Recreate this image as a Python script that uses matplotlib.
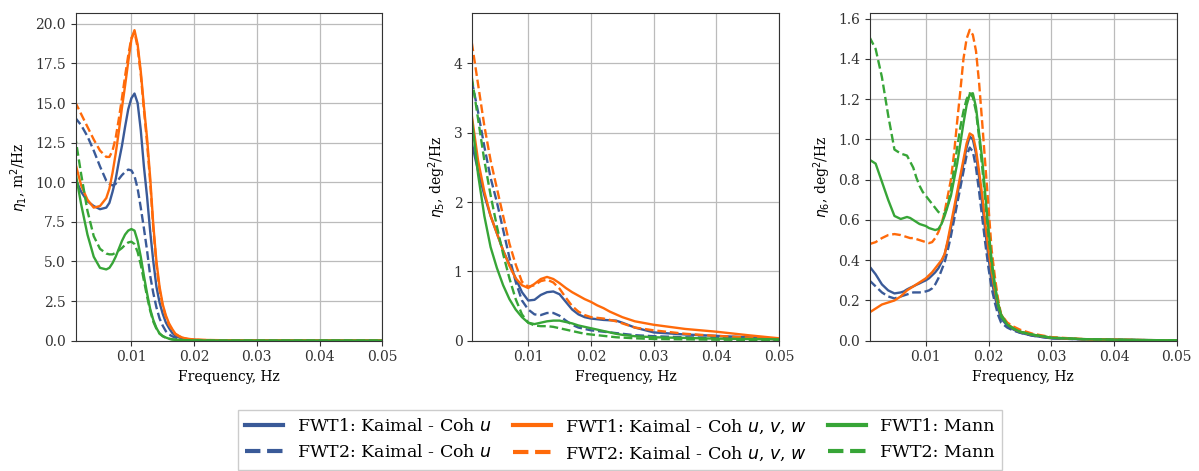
import numpy as np
import matplotlib
matplotlib.use("Agg")
import matplotlib.pyplot as plt
from matplotlib.ticker import FormatStrFormatter

plt.rcParams["font.family"] = "DejaVu Serif"
plt.rcParams["mathtext.fontset"] = "dejavusans"

# frequency grids (Hz): dense one for the peaked surge / yaw spectra, coarse one for pitch
freq_fine = [0.001, 0.002, 0.003, 0.004, 0.005, 0.006,
             0.0065, 0.007, 0.0075, 0.008, 0.0085, 0.009, 0.0095, 0.010,
             0.0105, 0.011, 0.0115, 0.012, 0.0125, 0.013, 0.0135, 0.014,
             0.0145, 0.015, 0.0155, 0.016, 0.0165, 0.017, 0.0175, 0.018,
             0.0185, 0.019, 0.0195, 0.020, 0.0205, 0.021, 0.0215, 0.022,
             0.023, 0.024, 0.025, 0.027, 0.030, 0.035, 0.040, 0.045, 0.050]
freq_coarse = [0.001, 0.002, 0.003, 0.004, 0.005, 0.006, 0.007, 0.008, 0.009, 0.010,
               0.011, 0.012, 0.013, 0.014, 0.015, 0.016, 0.017, 0.018, 0.019, 0.020,
               0.021, 0.022, 0.023, 0.024, 0.025, 0.027, 0.030, 0.035, 0.040, 0.045, 0.050]

# eta_1 (surge), m^2/Hz  -- on freq_fine
eta1_k_u_1 = [10.3, 9.4, 8.8, 8.5, 8.3, 8.4,
              8.7, 9.4, 10.2, 11.3, 12.3, 13.5, 14.6, 15.3, 15.6, 15.0, 13.3, 11.0,
              9.1, 6.9, 5.0, 3.4, 2.4, 1.7, 1.15, 0.8, 0.5, 0.32, 0.22, 0.15,
              0.11, 0.08, 0.06, 0.05, 0.04, 0.035, 0.03, 0.03,
              0.025, 0.02, 0.02, 0.015, 0.012, 0.01, 0.01, 0.01, 0.01]
eta1_k_u_2 = [14.1, 13.6, 12.9, 12.0, 11.0, 10.1,
              9.9, 9.8, 9.9, 10.2, 10.45, 10.65, 10.8, 10.75, 10.4, 9.6, 8.4, 7.1,
              5.7, 4.1, 3.0, 2.1, 1.4, 0.95, 0.6, 0.4, 0.28, 0.2, 0.14, 0.1,
              0.08, 0.06, 0.05, 0.04, 0.035, 0.03, 0.03, 0.025,
              0.02, 0.02, 0.02, 0.015, 0.012, 0.01, 0.01, 0.01, 0.01]
eta1_k_uvw_1 = [11.3, 9.8, 8.9, 8.4, 8.5, 9.0,
                9.6, 10.6, 11.8, 13.2, 14.7, 16.1, 17.6, 19.0, 19.6, 18.7, 17.0, 14.8,
                12.8, 10.3, 7.3, 5.0, 3.4, 2.3, 1.6, 1.1, 0.75, 0.45, 0.32, 0.22,
                0.16, 0.12, 0.1, 0.08, 0.07, 0.06, 0.05, 0.045,
                0.04, 0.035, 0.03, 0.025, 0.02, 0.015, 0.012, 0.01, 0.01]
eta1_k_uvw_2 = [15.1, 14.3, 13.5, 12.7, 12.0, 11.6,
                11.6, 12.0, 12.8, 14.0, 15.3, 16.7, 18.0, 19.1, 19.5, 18.5, 16.8, 14.6,
                12.5, 10.0, 7.1, 4.8, 3.2, 2.2, 1.5, 1.0, 0.7, 0.42, 0.3, 0.2,
                0.15, 0.11, 0.09, 0.07, 0.06, 0.05, 0.045, 0.04,
                0.035, 0.03, 0.025, 0.02, 0.018, 0.015, 0.012, 0.01, 0.01]
eta1_mann_1 = [10.8, 8.6, 6.7, 5.3, 4.6, 4.5,
               4.6, 4.9, 5.3, 5.8, 6.3, 6.7, 6.95, 7.05, 6.95, 6.3, 5.3, 4.1,
               3.0, 2.0, 1.3, 0.8, 0.45, 0.3, 0.2, 0.13, 0.09, 0.06, 0.05, 0.04,
               0.035, 0.03, 0.025, 0.02, 0.02, 0.02, 0.015, 0.015,
               0.015, 0.012, 0.01, 0.01, 0.01, 0.01, 0.01, 0.01, 0.01]
eta1_mann_2 = [13.0, 10.5, 8.2, 6.6, 5.8, 5.5,
               5.45, 5.45, 5.55, 5.7, 5.85, 6.05, 6.2, 6.25, 6.1, 5.6, 4.8, 3.8,
               2.8, 1.9, 1.2, 0.75, 0.45, 0.28, 0.18, 0.12, 0.08, 0.06, 0.05, 0.04,
               0.03, 0.025, 0.02, 0.02, 0.02, 0.015, 0.015, 0.015,
               0.012, 0.01, 0.01, 0.01, 0.01, 0.01, 0.01, 0.01, 0.01]

# eta_5 (pitch), deg^2/Hz  -- on freq_coarse
eta5_k_u_1 = [2.85, 2.45, 2.1, 1.8, 1.55, 1.3, 1.1, 0.9, 0.7, 0.58,
              0.59, 0.66, 0.70, 0.71, 0.67, 0.56, 0.45, 0.38, 0.34, 0.32,
              0.31, 0.30, 0.295, 0.29, 0.26, 0.19, 0.12, 0.09, 0.07, 0.05, 0.02]
eta5_k_u_2 = [3.75, 3.3, 2.8, 2.35, 2.0, 1.6, 1.2, 0.85, 0.58, 0.45,
              0.38, 0.37, 0.40, 0.40, 0.36, 0.29, 0.23, 0.19, 0.17, 0.15,
              0.14, 0.13, 0.12, 0.11, 0.10, 0.08, 0.065, 0.05, 0.04, 0.03, 0.015]
eta5_k_uvw_1 = [3.25, 2.6, 2.15, 1.8, 1.55, 1.3, 1.08, 0.9, 0.8, 0.76,
                0.82, 0.89, 0.92, 0.89, 0.83, 0.76, 0.70, 0.65, 0.60, 0.56,
                0.51, 0.47, 0.42, 0.38, 0.34, 0.28, 0.23, 0.17, 0.13, 0.08, 0.035]
eta5_k_uvw_2 = [4.3, 3.7, 3.1, 2.6, 2.2, 1.8, 1.4, 1.1, 0.85, 0.78,
                0.80, 0.86, 0.88, 0.84, 0.75, 0.62, 0.50, 0.42, 0.37, 0.34,
                0.33, 0.32, 0.30, 0.28, 0.25, 0.19, 0.15, 0.10, 0.07, 0.045, 0.02]
eta5_mann_1 = [3.2, 2.4, 1.8, 1.35, 1.05, 0.8, 0.6, 0.45, 0.34, 0.26,
               0.24, 0.26, 0.28, 0.29, 0.29, 0.27, 0.25, 0.22, 0.20, 0.18,
               0.16, 0.14, 0.12, 0.10, 0.085, 0.065, 0.05, 0.04, 0.03, 0.025, 0.02]
eta5_mann_2 = [3.8, 3.2, 2.6, 2.1, 1.65, 1.25, 0.9, 0.6, 0.38, 0.26,
               0.22, 0.21, 0.21, 0.20, 0.18, 0.16, 0.14, 0.12, 0.10, 0.09,
               0.08, 0.07, 0.06, 0.05, 0.045, 0.035, 0.025, 0.02, 0.015, 0.012, 0.01]

# eta_6 (yaw), deg^2/Hz  -- on freq_fine
eta6_k_u_1 = [0.37, 0.33, 0.28, 0.25, 0.235, 0.24,
              0.245, 0.255, 0.263, 0.27, 0.278, 0.285, 0.293, 0.30, 0.31, 0.325, 0.34, 0.36,
              0.39, 0.43, 0.49, 0.56, 0.64, 0.72, 0.80, 0.88, 0.96, 1.015, 1.0, 0.93,
              0.81, 0.68, 0.54, 0.41, 0.30, 0.22, 0.16, 0.11,
              0.075, 0.055, 0.04, 0.025, 0.012, 0.007, 0.005, 0.003, 0.002]
eta6_k_u_2 = [0.30, 0.27, 0.24, 0.22, 0.21, 0.22,
              0.225, 0.23, 0.235, 0.24, 0.24, 0.24, 0.242, 0.245, 0.25, 0.26, 0.28, 0.31,
              0.35, 0.39, 0.45, 0.52, 0.60, 0.68, 0.76, 0.84, 0.92, 0.96, 0.94, 0.86,
              0.74, 0.61, 0.48, 0.36, 0.26, 0.19, 0.13, 0.09,
              0.065, 0.05, 0.04, 0.025, 0.012, 0.007, 0.005, 0.003, 0.002]
eta6_k_uvw_1 = [0.14, 0.16, 0.18, 0.19, 0.20, 0.22,
                0.235, 0.25, 0.26, 0.27, 0.28, 0.29, 0.30, 0.31, 0.325, 0.34, 0.36, 0.38,
                0.40, 0.43, 0.50, 0.58, 0.66, 0.74, 0.82, 0.90, 0.98, 1.03, 1.02, 0.95,
                0.84, 0.72, 0.58, 0.45, 0.34, 0.25, 0.18, 0.13,
                0.085, 0.06, 0.045, 0.03, 0.015, 0.008, 0.005, 0.003, 0.002]
eta6_k_uvw_2 = [0.48, 0.49, 0.51, 0.525, 0.53, 0.525,
                0.52, 0.515, 0.51, 0.51, 0.505, 0.50, 0.495, 0.49, 0.485, 0.49, 0.51, 0.54,
                0.58, 0.64, 0.72, 0.80, 0.93, 1.09, 1.24, 1.40, 1.50, 1.545, 1.52, 1.44,
                1.28, 1.08, 0.87, 0.66, 0.45, 0.32, 0.21, 0.13,
                0.09, 0.07, 0.055, 0.035, 0.018, 0.008, 0.005, 0.003, 0.002]
eta6_mann_1 = [0.90, 0.88, 0.79, 0.70, 0.62, 0.605,
               0.61, 0.615, 0.61, 0.60, 0.59, 0.58, 0.575, 0.57, 0.56, 0.555, 0.55, 0.555,
               0.58, 0.62, 0.67, 0.72, 0.80, 0.88, 0.98, 1.08, 1.17, 1.225, 1.23, 1.16,
               1.03, 0.90, 0.72, 0.55, 0.40, 0.28, 0.19, 0.13,
               0.08, 0.06, 0.045, 0.03, 0.015, 0.008, 0.005, 0.003, 0.002]
eta6_mann_2 = [1.51, 1.45, 1.31, 1.12, 0.95, 0.93,
               0.925, 0.92, 0.89, 0.86, 0.81, 0.77, 0.74, 0.72, 0.70, 0.68, 0.66, 0.64,
               0.63, 0.63, 0.67, 0.75, 0.85, 0.96, 1.06, 1.14, 1.20, 1.23, 1.21, 1.14,
               1.01, 0.86, 0.69, 0.52, 0.38, 0.27, 0.18, 0.12,
               0.08, 0.06, 0.045, 0.03, 0.015, 0.008, 0.005, 0.003, 0.002]

labels = ["FWT1: Kaimal - Coh $u$", "FWT2: Kaimal - Coh $u$",
          "FWT1: Kaimal - Coh $u$, $v$, $w$", "FWT2: Kaimal - Coh $u$, $v$, $w$",
          "FWT1: Mann", "FWT2: Mann"]
colors = ["#3a5a98", "#3a5a98", "#ff6a0a", "#ff6a0a", "#37a537", "#37a537"]
styles = ["-", "--", "-", "--", "-", "--"]

panels = [
    (freq_fine, [eta1_k_u_1, eta1_k_u_2, eta1_k_uvw_1, eta1_k_uvw_2, eta1_mann_1, eta1_mann_2],
     r"$\eta_1$, m$^2$/Hz", 20.7, np.arange(0, 20.1, 2.5), "%.1f"),
    (freq_coarse, [eta5_k_u_1, eta5_k_u_2, eta5_k_uvw_1, eta5_k_uvw_2, eta5_mann_1, eta5_mann_2],
     r"$\eta_5$, deg$^2$/Hz", 4.73, np.arange(0, 5, 1), "%d"),
    (freq_fine, [eta6_k_u_1, eta6_k_u_2, eta6_k_uvw_1, eta6_k_uvw_2, eta6_mann_1, eta6_mann_2],
     r"$\eta_6$, deg$^2$/Hz", 1.63, np.arange(0, 1.61, 0.2), "%.1f"),
]

fig = plt.figure(figsize=(11.99, 4.71), dpi=100)
lefts = [0.063, 0.394, 0.7256]
handles = None
for left, (f, series, ylab, ytop, yt, fmt) in zip(lefts, panels):
    ax = fig.add_axes([left, 0.2766, 0.2558, 0.6964])
    hs = []
    for y, c, ls, lab in zip(series, colors, styles, labels):
        h, = ax.plot(f, y, color=c, ls=ls, lw=1.7, label=lab)
        hs.append(h)
    handles = hs
    ax.set_xlim(0.0011, 0.05)
    ax.set_ylim(0, ytop)
    ax.set_xticks([0.01, 0.02, 0.03, 0.04, 0.05])
    ax.set_yticks(yt)
    ax.yaxis.set_major_formatter(FormatStrFormatter(fmt))
    ax.tick_params(labelsize=10, colors="#333333")
    ax.set_xlabel("Frequency, Hz", fontsize=10)
    ax.set_ylabel(ylab, fontsize=10)
    ax.grid(color="#bbbbbb", lw=0.9)
    for sp in ax.spines.values():
        sp.set_color("#333333")

leg = fig.legend(handles, labels, ncol=3, loc="center", bbox_to_anchor=(0.517, 0.066),
                 fontsize=12.5, handlelength=2.2, columnspacing=1.2, fancybox=False,
                 edgecolor="#cccccc", framealpha=1)
for lh in leg.get_lines():
    lh.set_linewidth(3)

fig.savefig("out.png", dpi=100)
